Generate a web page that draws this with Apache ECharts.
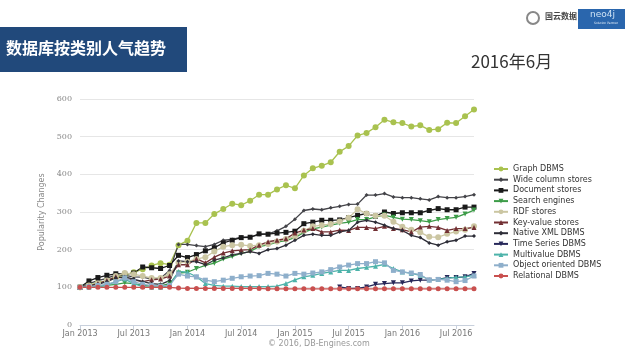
<!DOCTYPE html>
<html>
<head>
<meta charset="utf-8">
<script src="https://cdn.jsdelivr.net/npm/echarts@6/dist/echarts.min.js"></script>
<style>html,body{margin:0;padding:0;background:#fff;}#c{width:640px;height:360px;}</style>
</head>
<body>
<div id="c"></div>
<script>
const months = ['Jan 2013','Feb 2013','Mar 2013','Apr 2013','May 2013','Jun 2013','Jul 2013','Aug 2013','Sep 2013','Oct 2013','Nov 2013','Dec 2013',
'Jan 2014','Feb 2014','Mar 2014','Apr 2014','May 2014','Jun 2014','Jul 2014','Aug 2014','Sep 2014','Oct 2014','Nov 2014','Dec 2014',
'Jan 2015','Feb 2015','Mar 2015','Apr 2015','May 2015','Jun 2015','Jul 2015','Aug 2015','Sep 2015','Oct 2015','Nov 2015','Dec 2015',
'Jan 2016','Feb 2016','Mar 2016','Apr 2016','May 2016','Jun 2016','Jul 2016','Aug 2016','Sep 2016'];
const yTicks = [0,100,200,300,400,500,600];
const seriesNames = ['Graph DBMS','Wide column stores','Document stores','Search engines','RDF stores','Key-value stores','Native XML DBMS','Time Series DBMS','Multivalue DBMS','Object oriented DBMS','Relational DBMS'];
const graphDBMS = [100,106,112,118,126,133,140,148,158,164,160,212,224,271,271,295,308,322,318,330,346,346,360,371,363,397,416,423,432,460,475,503,510,525,545,538,536,527,530,518,520,537,536,554,572];
const wideColumn = [100,110,118,124,133,132,128,127,122,124,145,214,214,211,208,214,225,227,233,233,240,242,250,262,281,304,308,306,311,315,320,321,345,345,349,340,338,338,335,332,341,338,338,341,346];
const documentStores = [100,117,126,132,136,135,138,154,152,150,158,185,179,187,197,205,218,225,232,233,242,241,244,246,249,269,273,278,278,279,285,291,296,289,300,296,298,298,298,304,309,306,306,313,313];
const searchEngines = [100,100,102,105,108,112,110,105,103,104,110,138,140,150,158,164,175,182,190,195,208,213,220,224,232,246,255,260,265,270,273,280,280,287,292,286,281,280,277,274,280,283,286,295,305];
const rdfStores = [100,105,110,118,130,138,135,130,125,125,135,165,168,175,180,195,208,212,213,210,212,215,222,228,235,250,262,265,268,275,285,307,296,290,290,274,261,253,246,234,233,242,248,253,262];
const keyValue = [100,104,110,118,128,124,120,115,120,122,130,160,160,176,165,180,191,197,199,200,212,221,225,229,244,252,256,247,247,252,251,259,259,256,262,256,253,247,260,262,259,251,256,256,259];
const nativeXML = [100,103,108,115,125,128,122,115,110,108,118,170,168,168,160,172,178,186,190,195,190,200,203,212,225,238,241,238,238,247,251,273,278,273,265,256,251,238,232,218,212,221,225,236,236];
const timeSeries = [null,null,null,null,null,null,null,null,null,null,null,null,null,null,null,null,null,null,null,null,null,null,null,null,null,null,null,null,null,101,97,97,101,108,110,112,112,117,119,119,121,126,126,128,137];
const multivalue = [100,100,102,105,115,122,110,102,100,100,105,142,140,128,110,105,103,103,102,102,102,102,103,110,120,128,132,137,141,145,145,150,153,156,161,150,141,137,132,120,121,124,127,128,132];
const objectOriented = [100,102,105,108,115,125,115,108,105,103,105,135,130,128,119,115,119,124,128,130,131,137,135,130,137,135,138,141,147,154,159,163,163,168,165,145,141,138,134,119,121,119,115,118,130];
const relational = [100,100,100,100,100,100,100,100,100,100,100,98,97,97,97,97,97,97,97,97,97,96,96,96,96,96,96,96,96,96,96,96,96,96,96,96,96,96,96,96,96,96,96,96,96];

const allData = [graphDBMS, wideColumn, documentStores, searchEngines, rdfStores, keyValue, nativeXML, timeSeries, multivalue, objectOriented, relational];
const colors = ['#a9c24f','#434348','#1a1a1a','#3d9c48','#cbc6a2','#722f33','#2e2e38','#27285a','#4db3aa','#8eafcb','#c9504f'];
const symbols = ['circle','diamond','rect','triangle','circle','triangle','diamond','triangle','triangle','rect','circle'];
const rotates = [0,0,0,180,0,0,0,180,0,0,0];
const sizes = [6,4,5,5,6,5,4,5,5,5,5];

const chart = echarts.init(document.getElementById('c'), null, {renderer:'canvas'});
const series = seriesNames.map((n,k)=>({
  name:n, type:'line', data:allData[k], symbol:symbols[k], symbolSize:sizes[k], symbolRotate:rotates[k],
  showSymbol:true, showAllSymbol:true, connectNulls:false,
  lineStyle:{color:colors[k], width:1.3}, itemStyle:{color:colors[k]}
}));
chart.setOption({
  animation:false,
  backgroundColor:'#ffffff',
  textStyle:{fontFamily:'DejaVu Sans'},
  grid:{left:80, right:166, top:99, bottom:35},
  legend:{
    orient:'vertical', left:488, top:159, itemWidth:14, itemHeight:6, itemGap:0.7,
    textStyle:{fontSize:8, color:'#333', lineHeight:10, fontFamily:'DejaVu Sans'},
    data:seriesNames
  },
  xAxis:{
    type:'category', data:months, boundaryGap:false,
    axisLine:{lineStyle:{color:'#c8d0dc'}},
    axisTick:{interval:5, length:4, lineStyle:{color:'#c8d0dc'}},
    axisLabel:{interval:5, fontSize:8, color:'#777', margin:5}
  },
  yAxis:{
    type:'value', min:0, max:600, interval:100,
    name:'Popularity Changes', nameLocation:'middle', nameGap:30,
    nameTextStyle:{fontSize:8, color:'#888'},
    axisLine:{show:false}, axisTick:{show:false},
    axisLabel:{fontSize:8, color:'#888', margin:8, fontFamily:'DejaVu Serif',
      formatter:(v)=> yTicks.indexOf(v)>=0 ? String(v) : ''},
    splitLine:{lineStyle:{color:'#e6e6e6'}}
  },
  graphic:[
    {type:'rect', left:0, top:27, shape:{width:187, height:45}, style:{fill:'#21497b'}},
    {type:'text', left:6, top:40, style:{text:'数据库按类别人气趋势', fill:'#fff', font:'bold 16px "Noto Sans CJK SC"'}},
    {type:'text', left:471, top:53, style:{text:'2016年6月', fill:'#333', font:'17px "Noto Sans CJK SC"'}},
    {type:'text', left:268, top:340, style:{text:'© 2016, DB-Engines.com', fill:'#999', font:'8px "DejaVu Sans"'}},
    {type:'circle', shape:{cx:533, cy:18, r:6}, style:{fill:'none', stroke:'#888', lineWidth:2}},
    {type:'text', left:545, top:12, style:{text:'国云数据', fill:'#444', font:'bold 8px "Noto Sans CJK SC"'}},
    {type:'rect', left:578, top:9, shape:{width:47, height:20}, style:{fill:'#2a66ad'}},
    {type:'text', left:590, top:10, style:{text:'neo4j', fill:'#cfe3f5', font:'9px "DejaVu Sans"'}},
    {type:'text', left:594, top:22, style:{text:'Solution Partner', fill:'#e0ecf8', font:'3px "DejaVu Sans"'}}
  ],
  series:series
});
</script>
</body>
</html>
